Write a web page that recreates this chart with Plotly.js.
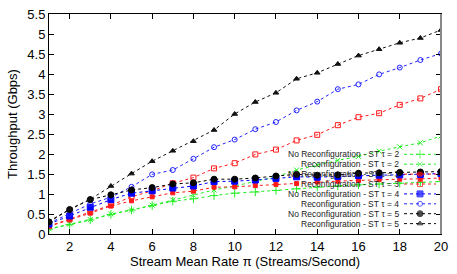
<!DOCTYPE html>
<html><head><meta charset="utf-8">
<script src="https://cdn.plot.ly/plotly-3.0.1.min.js"></script>
<style>html,body{margin:0;padding:0;background:#fff}#c{width:457px;height:274px}</style>
</head><body><div id="c"></div>
<script>
const rates = [1,2,3,4,5,6,7,8,9,10,11,12,13,14,15,16,17,18,19,20];
const noReconfTau2 = [0.12,0.24,0.35,0.49,0.60,0.71,0.82,0.88,0.96,1.02,1.05,1.09,1.13,1.17,1.20,1.23,1.25,1.27,1.29,1.31];
const reconfTau2   = [0.13,0.25,0.36,0.50,0.60,0.72,0.85,0.97,1.10,1.20,1.31,1.43,1.60,1.72,1.84,1.94,2.07,2.18,2.28,2.45];
const noReconfTau3 = [0.19,0.35,0.52,0.70,0.83,0.93,1.03,1.07,1.17,1.18,1.21,1.24,1.26,1.30,1.32,1.34,1.36,1.37,1.38,1.40];
const reconfTau3   = [0.20,0.38,0.55,0.72,0.93,1.08,1.27,1.41,1.64,1.77,1.99,2.11,2.34,2.48,2.72,2.92,3.02,3.23,3.39,3.62];
const noReconfTau4 = [0.25,0.45,0.67,0.86,1.02,1.08,1.15,1.20,1.31,1.32,1.35,1.39,1.43,1.42,1.44,1.46,1.47,1.48,1.49,1.51];
const reconfTau4   = [0.27,0.50,0.75,0.92,1.18,1.49,1.60,1.88,2.17,2.36,2.62,2.80,3.09,3.31,3.62,3.74,3.99,4.16,4.35,4.51];
const noReconfTau5 = [0.30,0.61,0.86,0.98,1.10,1.16,1.25,1.28,1.37,1.37,1.40,1.45,1.49,1.47,1.48,1.52,1.53,1.54,1.55,1.56];
const reconfTau5   = [0.32,0.62,0.87,1.20,1.51,1.82,2.08,2.32,2.60,3.00,3.30,3.53,3.88,4.03,4.25,4.46,4.62,4.78,4.90,5.10];
const seriesNames = [
  "No Reconfiguration - ST τ = 2","Reconfiguration - ST τ = 2",
  "No Reconfiguration - ST τ = 3","Reconfiguration - ST τ = 3",
  "No Reconfiguration - ST τ = 4","Reconfiguration - ST τ = 4",
  "No Reconfiguration - ST τ = 5","Reconfiguration - ST τ = 5"];
const xTicks = [2,4,6,8,10,12,14,16,18,20];
const yTicks = [0,0.5,1,1.5,2,2.5,3,3.5,4,4.5,5,5.5];
const yTickText = ["0","0.5","1","1.5","2","2.5","3","3.5","4","4.5","5","5.5"];

const values = [noReconfTau2,reconfTau2,noReconfTau3,reconfTau3,noReconfTau4,reconfTau4,noReconfTau5,reconfTau5];
const styles = [
  {c:'#22ee22',s:'cross-thin-open',z:6},
  {c:'#22ee22',s:'x-thin-open',z:5},
  {c:'#ff1a1a',s:'square',z:4},
  {c:'#ff1a1a',s:'square-open',z:5},
  {c:'#0000ff',s:'square',z:6},
  {c:'#2222ff',s:'circle-open',z:5},
  {c:'#000000',s:'circle',z:6},
  {c:'#111111',s:'triangle-up',z:5}
];
const traces = [];
values.forEach((v,i)=>{
  const st = styles[i];
  traces.push({x:rates,y:v,type:'scatter',mode:'lines+markers',name:seriesNames[i],
    line:{color:st.c,width:1,dash:'3px,3px'},
    marker:{symbol:st.s,size:st.z,color:st.c,line:{color:st.c,width:1}},
    showlegend:false,hoverinfo:'skip'});
});
// custom legend (gnuplot style: text right, sample on the right)
const L=49,R=441,T=14,B=234,W=R-L,H=B-T;
const fx = px => (px-L)/W, fy = py => (B-py)/H;
const annotations=[];
seriesNames.forEach((n,i)=>{
  const py = 154.3 + i*9.9;
  const st = styles[i];
  annotations.push({xref:'paper',yref:'paper',x:fx(401),y:fy(py),xanchor:'right',yanchor:'middle',
    text:n,showarrow:false,font:{family:'Liberation Sans, Arial, sans-serif',size:8.5,color:'#222'}});
  traces.push({x:[fx(404),fx(420),fx(436)],y:[fy(py),fy(py),fy(py)],xaxis:'x2',yaxis:'y2',
    type:'scatter',mode:'lines+markers',showlegend:false,hoverinfo:'skip',
    line:{color:st.c,width:1,dash:'3px,3px'},
    marker:{symbol:st.s,size:[0,st.z,0],color:st.c,line:{color:st.c,width:1}}});
});
const font = {family:'Liberation Sans, Arial, sans-serif',size:13,color:'#000'};
const layout = {
  width:457,height:274,margin:{l:L,r:457-R,t:T,b:274-B},
  paper_bgcolor:'#fff',plot_bgcolor:'#fff',font:font,
  xaxis:{range:[1,20],tickvals:xTicks,ticks:'inside',ticklen:5,tickcolor:'#000',
    showline:true,linecolor:'#000',linewidth:1,mirror:'ticks',showgrid:false,zeroline:false,
    tickfont:{family:font.family,size:13},
    title:{text:'Stream Mean Rate π (Streams/Second)',font:{family:font.family,size:13},standoff:4}},
  yaxis:{range:[0,5.5],tickvals:yTicks,ticktext:yTickText,ticks:'inside',ticklen:5,tickcolor:'#000',
    showline:true,linecolor:'#000',linewidth:1,mirror:'ticks',showgrid:false,zeroline:false,
    tickfont:{family:font.family,size:13},
    title:{text:'Throughput (Gbps)',font:{family:font.family,size:13},standoff:6}},
  xaxis2:{overlaying:'x',range:[0,1],visible:false,fixedrange:true},
  yaxis2:{overlaying:'y',range:[0,1],visible:false,fixedrange:true},
  shapes:[{type:'line',xref:'paper',yref:'paper',x0:1,x1:1,y0:0,y1:1,line:{color:'#888',width:2}}],
  annotations:annotations,showlegend:false
};
Plotly.newPlot('c',traces,layout,{displayModeBar:false,staticPlot:true});
</script></body></html>
